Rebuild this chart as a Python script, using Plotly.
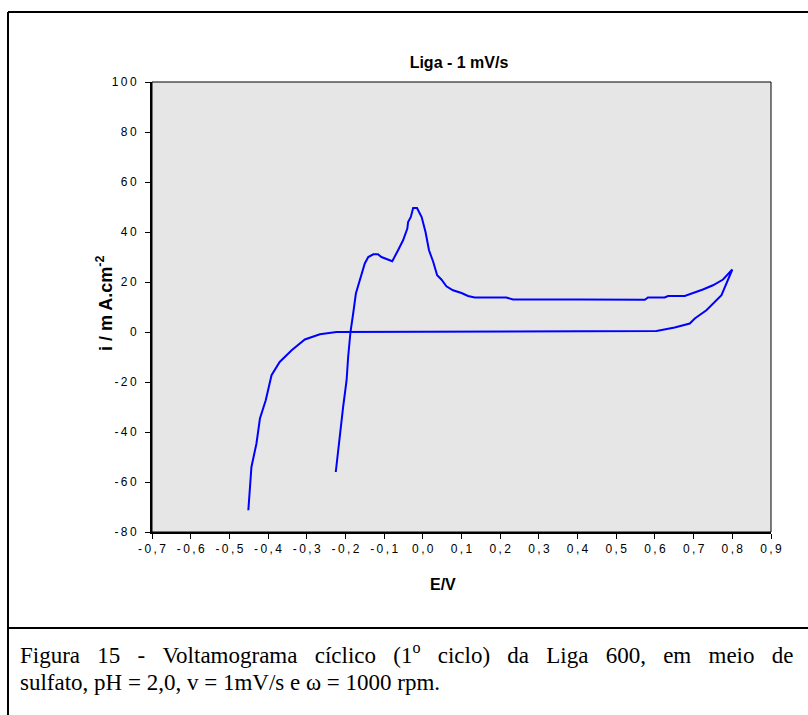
import plotly.graph_objects as go

# ---------------- data ----------------
E_V = [-0.451, -0.443, -0.430, -0.421, -0.406, -0.391, -0.370, -0.339, -0.305, -0.266, -0.223,
       0.604, 0.651, 0.668, 0.690, 0.703, 0.733, 0.772, 0.789, 0.800,
       0.776, 0.750, 0.724, 0.698, 0.677, 0.634, 0.625, 0.582, 0.574, 0.406, 0.233, 0.216,
       0.134, 0.117, 0.100, 0.078, 0.061, 0.048, 0.037, 0.027, 0.016, 0.007, -0.003,
       -0.015, -0.025, -0.031, -0.038, -0.040, -0.051, -0.064, -0.079, -0.107, -0.116,
       -0.128, -0.141, -0.150, -0.163, -0.173, -0.180, -0.187, -0.193, -0.197, -0.206, -0.225]
i_uA = [-71.3, -54.0, -44.6, -34.6, -27.3, -17.3, -12.0, -7.3, -3.0, -0.9, 0.0,
        0.4, 1.8, 2.4, 3.4, 5.4, 8.7, 14.7, 20.7, 25.0,
        21.0, 18.7, 17.0, 15.4, 14.4, 14.4, 13.8, 13.8, 12.9, 13.0, 13.0, 13.8,
        13.8, 14.4, 15.6, 16.7, 18.3, 21.0, 22.7, 28.0, 32.7, 40.0, 46.0,
        49.6, 49.6, 46.0, 44.0, 41.4, 36.7, 32.7, 28.3, 30.0, 31.1,
        31.1, 30.0, 27.4, 20.0, 15.4, 7.4, 0.0, -10.0, -19.3, -30.0, -56.0]

x_tick_vals = [-0.7, -0.6, -0.5, -0.4, -0.3, -0.2, -0.1, 0.0, 0.1, 0.2, 0.3, 0.4, 0.5, 0.6, 0.7, 0.8, 0.9]
x_tick_text = ["-0,7", "-0,6", "-0,5", "-0,4", "-0,3", "-0,2", "-0,1", "0,0", "0,1", "0,2",
               "0,3", "0,4", "0,5", "0,6", "0,7", "0,8", "0,9"]
y_tick_vals = [-80, -60, -40, -20, 0, 20, 40, 60, 80, 100]
y_tick_text = ["-80", "-60", "-40", "-20", "0", "20", "40", "60", "80", "100"]

title_text = "Liga - 1 mV/s"
x_title = "E/V"
y_title = "i / m A.cm<sup>-2</sup>"
caption_line1 = ["Figura", "15", "-", "Voltamograma", "cíclico", "(1<sup>o</sup>", "ciclo)", "da",
                 "Liga", "600,", "em", "meio", "de"]
caption_line2 = "sulfato, pH = 2,0, v = 1mV/s e ω = 1000 rpm."

# ---------------- layout geometry ----------------
W, H = 808, 715
L, R, T, B = 152, 37, 82, 183
pw, ph = W - L - R, H - T - B


def px(x):
    return (x - L) / pw


def py(y):
    return (H - B - y) / ph


def spaced(s):
    return "\u2009".join(s)


SANS = "Liberation Sans, Arial, sans-serif"
SERIF = "Liberation Serif, Times New Roman, serif"

fig = go.Figure()
fig.add_trace(go.Scatter(x=E_V, y=i_uA, mode="lines",
                         line=dict(color="#0000FF", width=2), showlegend=False))

fig.update_layout(
    width=W, height=H,
    margin=dict(l=L, r=R, t=T, b=B),
    paper_bgcolor="white",
    plot_bgcolor="#e6e6e6",
    showlegend=False,
    title=dict(text="<b>%s</b>" % title_text, x=px(459), xref="paper",
               xanchor="center", y=1 - 62 / H, yref="container", yanchor="middle",
               font=dict(family=SANS, size=16, color="black")),
)

fig.update_xaxes(range=[-0.7, 0.9], tickvals=x_tick_vals,
                 ticktext=[spaced(t) for t in x_tick_text],
                 ticks="outside", ticklen=5, tickwidth=1, tickcolor="black",
                 showline=True, linewidth=2, linecolor="black", showgrid=False, zeroline=False,
                 tickfont=dict(family=SANS, size=12, color="black"))
fig.update_yaxes(range=[-80, 100], tickvals=y_tick_vals,
                 ticktext=[spaced(t) for t in y_tick_text],
                 ticks="outside", ticklen=5, tickwidth=1, tickcolor="black",
                 showline=True, linewidth=2, linecolor="black", showgrid=False, zeroline=False,
                 ticklabelstandoff=6,
                 tickfont=dict(family=SANS, size=12, color="black"))

shapes = [
    # plot area border (top/right)
    dict(type="rect", xref="paper", yref="paper", x0=0, x1=1, y0=0, y1=1,
         line=dict(color="black", width=1), layer="above"),
    # outer frame
    dict(type="line", xref="paper", yref="paper", x0=px(8), x1=px(8), y0=py(12), y1=py(730),
         line=dict(color="black", width=2)),
    dict(type="line", xref="paper", yref="paper", x0=px(8), x1=px(830), y0=py(12), y1=py(12),
         line=dict(color="black", width=2)),
    dict(type="line", xref="paper", yref="paper", x0=px(8), x1=px(830), y0=py(628), y1=py(628),
         line=dict(color="black", width=2)),
]
fig.update_layout(shapes=shapes)

gap = " \u2002"
annotations = [
    dict(text="<b>%s</b>" % x_title, xref="paper", yref="paper", x=px(443), y=py(584),
         xanchor="center", yanchor="middle", showarrow=False,
         font=dict(family=SANS, size=16, color="black")),
    dict(text="<b>%s</b>" % y_title, xref="paper", yref="paper", x=px(104), y=py(303),
         xanchor="center", yanchor="middle", textangle=-90, showarrow=False,
         font=dict(family=SANS, size=18, color="black")),
    dict(text=gap.join(caption_line1), xref="paper", yref="paper", x=px(18), y=py(653),
         xanchor="left", yanchor="middle", showarrow=False,
         font=dict(family=SERIF, size=23, color="black")),
    dict(text=caption_line2, xref="paper", yref="paper", x=px(18), y=py(682),
         xanchor="left", yanchor="middle", showarrow=False,
         font=dict(family=SERIF, size=23, color="black")),
]
fig.update_layout(annotations=annotations)

fig.write_html("out.html")
